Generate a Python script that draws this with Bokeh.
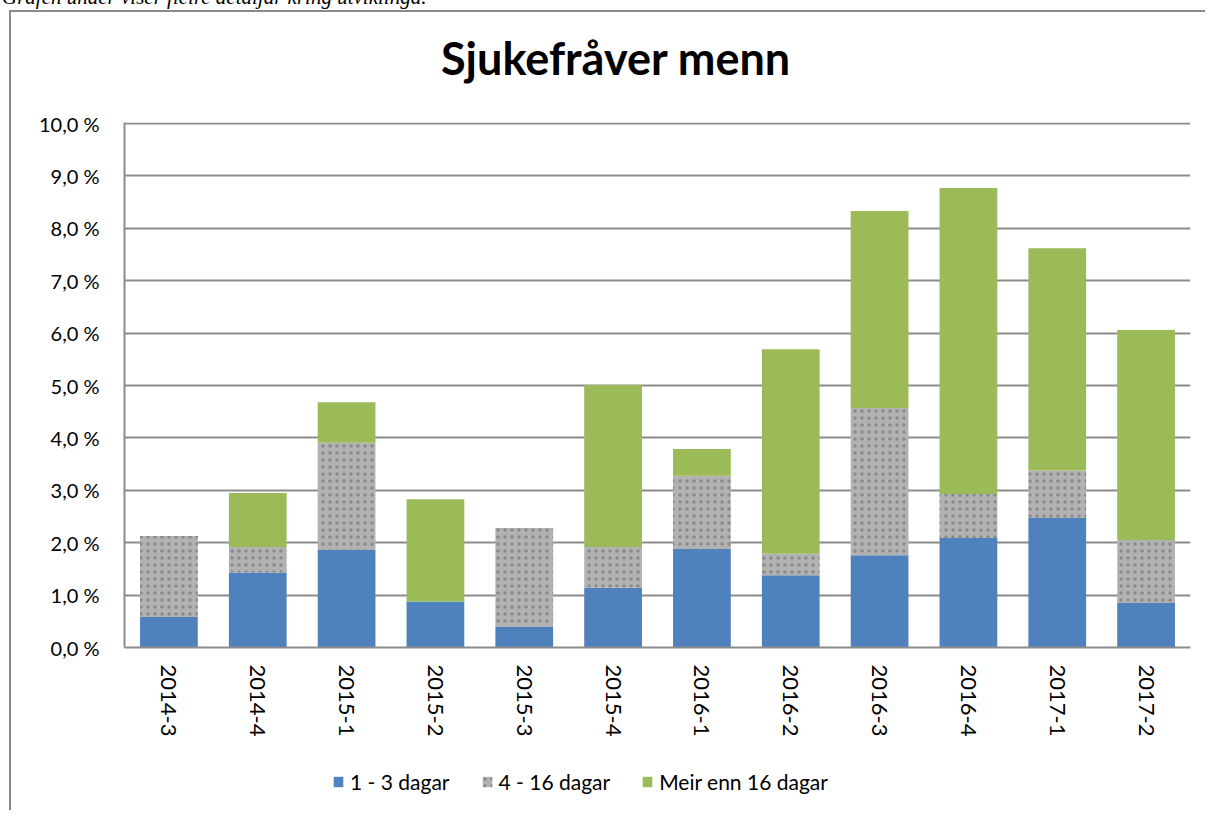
import math
import numpy as np
from bokeh.plotting import figure
from bokeh.models import (ColumnDataSource, FactorRange, Range1d, FixedTicker,
                          CustomJSTickFormatter, Legend, LegendItem, Div)
from bokeh.layouts import column
from bokeh.embed import file_html
from bokeh.resources import INLINE

periods = ["2014-3", "2014-4", "2015-1", "2015-2", "2015-3", "2015-4",
           "2016-1", "2016-2", "2016-3", "2016-4", "2017-1", "2017-2"]
days_1_3 = [0.58, 1.43, 1.86, 0.88, 0.40, 1.14, 1.88, 1.38, 1.76, 2.09, 2.47, 0.85]
days_4_16 = [1.55, 0.49, 2.05, 0.00, 1.88, 0.78, 1.40, 0.41, 2.81, 0.84, 0.91, 1.20]
days_16_plus = [0.00, 1.03, 0.77, 1.95, 0.00, 3.09, 0.51, 3.90, 3.76, 5.84, 4.24, 4.01]
series_names = ["1 - 3 dagar", "4 - 16 dagar", "Meir enn 16 dagar"]
y_ticks = [0, 1, 2, 3, 4, 5, 6, 7, 8, 9, 10]
title_text = "Sjukefråver menn"
intro_text = "Grafen under viser fleire detaljar kring utviklinga."

a = np.array(days_1_3)
b = np.array(days_4_16)
c = np.array(days_16_plus)
source = ColumnDataSource(dict(
    period=periods,
    b0=np.zeros(len(periods)),
    t1=a,
    t2=a + b,
    t3=a + b + c,
))

FONT = "Lato"
GRID = "#8c8c8c"
BORDER = "2px solid #8a8a8a"
BLUE = "#4f81bd"
GREEN = "#9bbb59"
GRAY = dict(fill_color="#b2b2b2", hatch_pattern="dot", hatch_color="#6a6a6a",
            hatch_scale=7, hatch_weight=1.5, hatch_alpha=0.55)

# ---- intro line (cut off by the top of the page, as in the reference) ----
intro = Div(text=intro_text, width=700, height=21, margin=(-13, 0, 0, 2),
            styles={"font-family": "Liberation Serif", "font-style": "italic",
                    "font-size": "21px", "line-height": "21px", "color": "black",
                    "white-space": "nowrap"})

# ---- chart title, top of the chart box ----
head = Div(text=('<div style="padding-left:430px;padding-top:19px;'
                 'font-family:Lato;font-weight:bold;font-size:45px;'
                 'line-height:54px;color:black;white-space:nowrap;">'
                 + title_text + '</div>'),
           width=1196, height=82, margin=(2, 0, 0, 9),
           styles={"border-top": BORDER, "border-left": BORDER,
                   "background-color": "white"})

# ---- main chart ----
p = figure(width=1196, height=665, x_range=FactorRange(*periods),
           y_range=Range1d(0, 10.02), output_backend="svg", toolbar_location=None,
           min_border_left=113, min_border_right=17, min_border_top=30,
           min_border_bottom=110, margin=(0, 0, 0, 9),
           styles={"border-left": BORDER})
p.outline_line_color = None
p.background_fill_color = "white"
p.border_fill_color = "white"

W = 0.65
p.vbar(x="period", bottom="b0", top="t1", width=W, source=source,
       fill_color=BLUE, line_color=None)
p.vbar(x="period", bottom="t1", top="t2", width=W, source=source,
       line_color=None, **GRAY)
p.vbar(x="period", bottom="t2", top="t3", width=W, source=source,
       fill_color=GREEN, line_color=None)

p.xgrid.grid_line_color = None
p.ygrid.grid_line_color = GRID
p.ygrid.grid_line_width = 2

p.yaxis.ticker = FixedTicker(ticks=y_ticks)
p.yaxis.formatter = CustomJSTickFormatter(
    code="return tick.toFixed(1).replace('.', ',') + ' %';")
for ax in (p.xaxis[0], p.yaxis[0]):
    ax.axis_line_color = GRID
    ax.axis_line_width = 2
    ax.major_tick_in = 0
    ax.major_tick_out = 0
    ax.minor_tick_in = 0
    ax.minor_tick_out = 0
    ax.major_label_text_font = FONT
    ax.major_label_text_color = "black"
p.yaxis.major_label_text_font_size = "20px"
p.xaxis.major_label_text_font_size = "22px"
p.yaxis.major_label_standoff = 25
p.xaxis.major_label_standoff = 17
p.xaxis.major_label_orientation = -math.pi / 2

# ---- legend strip (continues the chart box below) ----
lf = figure(width=1196, height=53, x_range=Range1d(0, 1), y_range=Range1d(0, 1),
            x_axis_location=None, y_axis_location=None, output_backend="svg",
            toolbar_location=None, min_border=0, margin=(0, 0, 0, 9),
            styles={"border-left": BORDER})
lf.outline_line_color = None
lf.background_fill_color = "white"
lf.border_fill_color = "white"
lf.grid.visible = False
# zero-height swatch carriers: nothing is drawn in the strip, only the legend swatches
swatch = dict(x=[0.5], bottom=[0.0], top=[0.0])
l1 = lf.vbar(x="x", bottom="bottom", top="top", width=0.1,
             source=ColumnDataSource(swatch), fill_color=BLUE, line_color=None)
l2 = lf.vbar(x="x", bottom="bottom", top="top", width=0.1,
             source=ColumnDataSource(swatch), line_color=None, **GRAY)
l3 = lf.vbar(x="x", bottom="bottom", top="top", width=0.1,
             source=ColumnDataSource(swatch), fill_color=GREEN, line_color=None)

legend = Legend(items=[LegendItem(label=series_names[0], renderers=[l1]),
                       LegendItem(label=series_names[1], renderers=[l2]),
                       LegendItem(label=series_names[2], renderers=[l3])],
                location=(208, 16), orientation="horizontal",
                border_line_color=None, background_fill_alpha=0,
                padding=0, margin=0, glyph_width=12, glyph_height=13,
                label_standoff=6, spacing=31, label_text_font=FONT,
                label_text_font_size="21px", label_text_color="black")
lf.add_layout(legend)

layout = column(intro, head, p, lf)
open("out.html", "w").write(file_html(layout, INLINE))
